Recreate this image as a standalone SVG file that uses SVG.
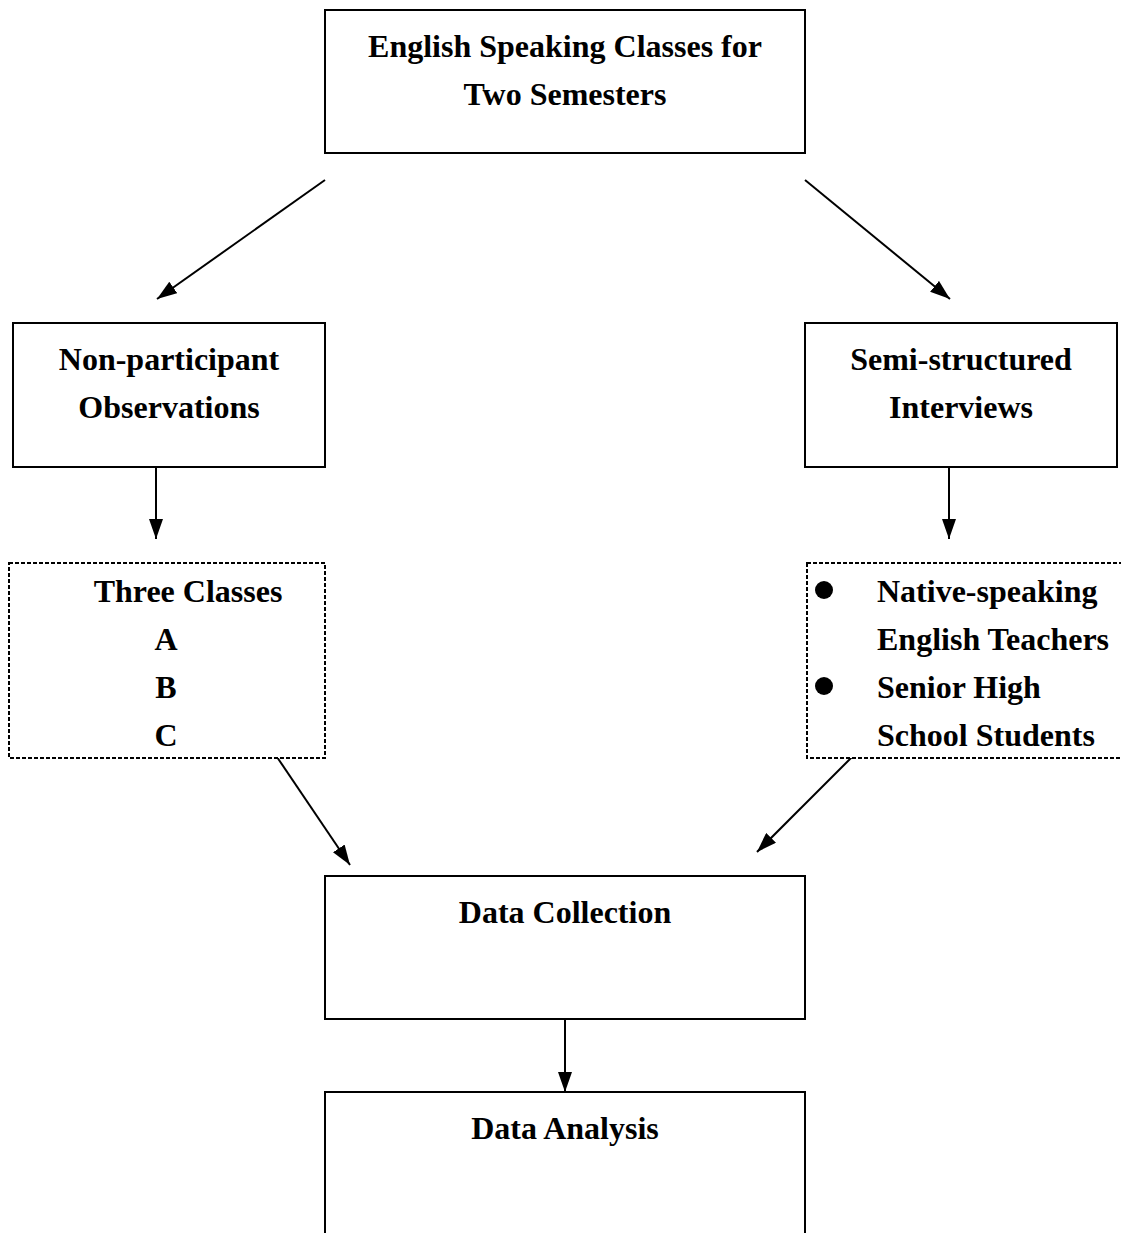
<svg xmlns="http://www.w3.org/2000/svg" width="1121" height="1233" viewBox="0 0 1121 1233">
<style>
.box{fill:#fff;stroke:#000;stroke-width:2}
.dash{fill:#fff;stroke:#000;stroke-width:2;stroke-dasharray:4 2}
.t{font-family:"Liberation Serif","Times New Roman",serif;font-weight:bold;font-size:32px;fill:#000}
.c{text-anchor:middle}
.ln{stroke:#000;stroke-width:2;fill:none;marker-end:url(#ah)}
</style>
<defs>
<marker id="ah" viewBox="0 0 20 14" refX="20" refY="7" markerWidth="20" markerHeight="14" markerUnits="userSpaceOnUse" orient="auto">
<path d="M0,0 L20,7 L0,14 Z" fill="#000"/>
</marker>
</defs>
<rect width="1121" height="1233" fill="#fff"/>
<g id="connectors">
<line class="ln" x1="325" y1="180" x2="157" y2="299"/>
<line class="ln" x1="805" y1="180" x2="950" y2="299"/>
<line class="ln" x1="156" y1="467" x2="156" y2="539"/>
<line class="ln" x1="949" y1="467" x2="949" y2="539"/>
<line class="ln" x1="277" y1="757" x2="350" y2="865"/>
<line class="ln" x1="852" y1="757" x2="757" y2="852"/>
<line class="ln" x1="565" y1="1019" x2="565" y2="1092"/>
</g>
<g id="n1">
<rect class="box" x="325" y="10" width="480" height="143"/>
<text class="t c" x="565" y="57">English Speaking Classes for</text>
<text class="t c" x="565" y="105">Two Semesters</text>
</g>
<g id="n2">
<rect class="box" x="13" y="323" width="312" height="144"/>
<text class="t c" x="169" y="370">Non-participant</text>
<text class="t c" x="169" y="418">Observations</text>
</g>
<g id="n3">
<rect class="box" x="805" y="323" width="312" height="144"/>
<text class="t c" x="961" y="370">Semi-structured</text>
<text class="t c" x="961" y="418">Interviews</text>
</g>
<g id="n4">
<rect class="dash" x="9" y="563" width="316" height="195"/>
<text class="t c" x="188" y="602">Three Classes</text>
<text class="t c" x="166" y="650">A</text>
<text class="t c" x="166" y="698">B</text>
<text class="t c" x="166" y="746">C</text>
</g>
<g id="n5">
<rect class="dash" x="807" y="563" width="320" height="195"/>
<circle cx="824" cy="590" r="9"/>
<circle cx="824" cy="686" r="9"/>
<text class="t" x="877" y="602">Native-speaking</text>
<text class="t" x="877" y="650">English Teachers</text>
<text class="t" x="877" y="698">Senior High</text>
<text class="t" x="877" y="746">School Students</text>
</g>
<g id="n6">
<rect class="box" x="325" y="876" width="480" height="143"/>
<text class="t c" x="565" y="923">Data Collection</text>
</g>
<g id="n7">
<rect class="box" x="325" y="1092" width="480" height="160"/>
<text class="t c" x="565" y="1139">Data Analysis</text>
</g>
</svg>
